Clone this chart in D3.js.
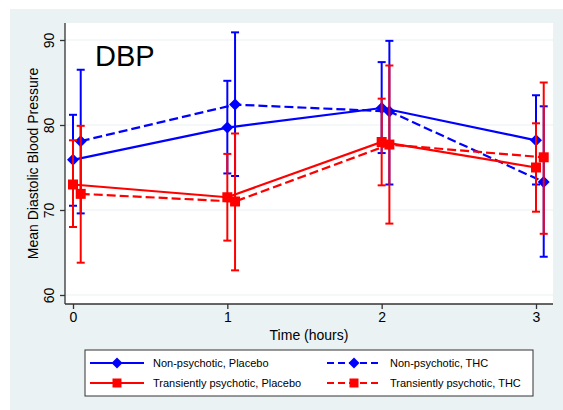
<!DOCTYPE html>
<html><head><meta charset="utf-8">
<script src="https://cdn.jsdelivr.net/npm/d3@7"></script>
<style>body{margin:0;background:#fff}svg{display:block;font-family:"Liberation Sans",Arial,sans-serif}</style>
</head><body><svg id="c" width="563" height="410"></svg>
<script>
const times = [0, 1, 2, 3];
const yTicks = [60, 70, 80, 90];
const seriesNames = ["Non-psychotic, Placebo", "Non-psychotic, THC", "Transiently psychotic, Placebo", "Transiently psychotic, THC"];
const npPlaceboMean = [75.9, 79.7, 82.0, 78.2];
const npPlaceboLo   = [70.5, 74.3, 76.7, 73.0];
const npPlaceboHi   = [81.2, 85.2, 87.4, 83.5];
const npThcMean = [78.1, 82.4, 81.6, 73.3];
const npThcLo   = [69.6, 74.0, 73.0, 64.5];
const npThcHi   = [86.5, 90.9, 89.9, 82.2];
const tpPlaceboMean = [73.0, 71.5, 78.0, 75.0];
const tpPlaceboLo   = [68.0, 66.4, 72.9, 69.8];
const tpPlaceboHi   = [78.2, 76.6, 83.1, 80.2];
const tpThcMean = [71.9, 71.0, 77.7, 76.2];
const tpThcLo   = [63.8, 62.9, 68.4, 67.2];
const tpThcHi   = [79.9, 79.0, 87.0, 85.0];
const thcOffset = 0.05;

const series = [
  {name: seriesNames[0], mean: npPlaceboMean, lo: npPlaceboLo, hi: npPlaceboHi, color: "#0000ff", dash: null, marker: "diamond", off: 0},
  {name: seriesNames[1], mean: npThcMean, lo: npThcLo, hi: npThcHi, color: "#0000ff", dash: "9,4", marker: "diamond", off: thcOffset},
  {name: seriesNames[2], mean: tpPlaceboMean, lo: tpPlaceboLo, hi: tpPlaceboHi, color: "#ff0000", dash: null, marker: "square", off: 0},
  {name: seriesNames[3], mean: tpThcMean, lo: tpThcLo, hi: tpThcHi, color: "#ff0000", dash: "9,4", marker: "square", off: thcOffset}
];

const svg = d3.select("#c");
const bg = "#eaf2f3";
svg.append("rect").attr("x", 10).attr("y", 9).attr("width", 553).attr("height", 401).attr("fill", bg);
const L = 65, R = 553, T = 23, B = 304;
svg.append("rect").attr("x", L).attr("y", T).attr("width", R - L).attr("height", B - T).attr("fill", "#fff");

const x = d3.scaleLinear().domain([0, 3]).range([73, 536]);
const y = d3.scaleLinear().domain([60, 90]).range([295, 40]);

// gridlines
svg.append("g").selectAll("line").data(yTicks).join("line")
  .attr("x1", L).attr("x2", R).attr("y1", d => y(d)).attr("y2", d => y(d))
  .attr("stroke", bg).attr("stroke-width", 1.2);

// axes
const yAxis = svg.append("g").attr("transform", `translate(${L},0)`)
  .call(d3.axisLeft(y).tickValues(yTicks).tickSize(5).tickPadding(4).tickFormat(d3.format("d")));
yAxis.select(".domain").attr("d", `M0,${T}V${B}`).attr("stroke", "#333").attr("stroke-width", 1.3);
yAxis.selectAll(".tick line").attr("stroke", "#333").attr("stroke-width", 1.3);
yAxis.selectAll(".tick text").attr("font-size", 14).attr("fill", "#000")
  .attr("text-anchor", "middle").attr("dy", 0).attr("x", 0).attr("y", 0)
  .attr("transform", "translate(-11,0) rotate(-90)");

const xAxis = svg.append("g").attr("transform", `translate(0,${B})`)
  .call(d3.axisBottom(x).tickValues(times).tickSize(5).tickPadding(3).tickFormat(d3.format("d")));
xAxis.select(".domain").attr("d", `M${L},0H${R}`).attr("stroke", "#333").attr("stroke-width", 1.3);
xAxis.selectAll(".tick line").attr("stroke", "#333").attr("stroke-width", 1.3);
xAxis.selectAll(".tick text").attr("font-size", 14).attr("fill", "#000");

// axis titles
svg.append("text").attr("x", (L + R) / 2).attr("y", 340).attr("text-anchor", "middle")
  .attr("font-size", 14).text("Time (hours)");
svg.append("text").attr("transform", `translate(38,${(T + B) / 2}) rotate(-90)`).attr("text-anchor", "middle")
  .attr("font-size", 14).text("Mean Diastolic Blood Pressure");

// DBP label
svg.append("text").attr("x", 95).attr("y", 66).attr("font-size", 29).text("DBP");

const markerPath = (type, s) => type === "diamond"
  ? `M0,${-s}L${s},0L0,${s}L${-s},0Z`
  : `M${-s},${-s}H${s}V${s}H${-s}Z`;

const plotG = svg.append("g");
series.forEach(s => {
  const g = plotG.append("g");
  const pts = times.map((t, i) => ({t: t + s.off, m: s.mean[i], lo: s.lo[i], hi: s.hi[i]}));
  g.selectAll("line.v").data(pts).join("line")
    .attr("x1", d => x(d.t)).attr("x2", d => x(d.t)).attr("y1", d => y(d.lo)).attr("y2", d => y(d.hi))
    .attr("stroke", s.color).attr("stroke-width", 2);
  ["lo", "hi"].forEach(k => {
    g.selectAll("line.c" + k).data(pts).join("line")
      .attr("x1", d => x(d.t) - 4).attr("x2", d => x(d.t) + 4).attr("y1", d => y(d[k])).attr("y2", d => y(d[k]))
      .attr("stroke", s.color).attr("stroke-width", 2);
  });
  g.append("path").datum(pts)
    .attr("d", d3.line().x(d => x(d.t)).y(d => y(d.m)))
    .attr("fill", "none").attr("stroke", s.color).attr("stroke-width", 2.2)
    .attr("stroke-dasharray", s.dash);
  g.selectAll("path.m").data(pts).join("path")
    .attr("transform", d => `translate(${x(d.t)},${y(d.m)})`)
    .attr("d", markerPath(s.marker, s.marker === "diamond" ? 6 : 5))
    .attr("fill", s.color);
});

// legend
const lg = svg.append("g");
lg.append("rect").attr("x", 85).attr("y", 350).attr("width", 448).attr("height", 46)
  .attr("fill", "#fff").attr("stroke", "#333").attr("stroke-width", 1);
const legPos = [[90, 363], [327, 363], [90, 383], [327, 383]];
series.forEach((s, i) => {
  const [lx, ly] = legPos[i];
  lg.append("line").attr("x1", lx).attr("x2", lx + 54).attr("y1", ly).attr("y2", ly)
    .attr("stroke", s.color).attr("stroke-width", 2).attr("stroke-dasharray", s.dash ? "7,4" : null);
  lg.append("path").attr("transform", `translate(${lx + 27},${ly})`)
    .attr("d", markerPath(s.marker, s.marker === "diamond" ? 5.5 : 4.5)).attr("fill", s.color);
  lg.append("text").attr("x", lx + 63).attr("y", ly + 4).attr("font-size", 11).text(s.name);
});
</script></body></html>
